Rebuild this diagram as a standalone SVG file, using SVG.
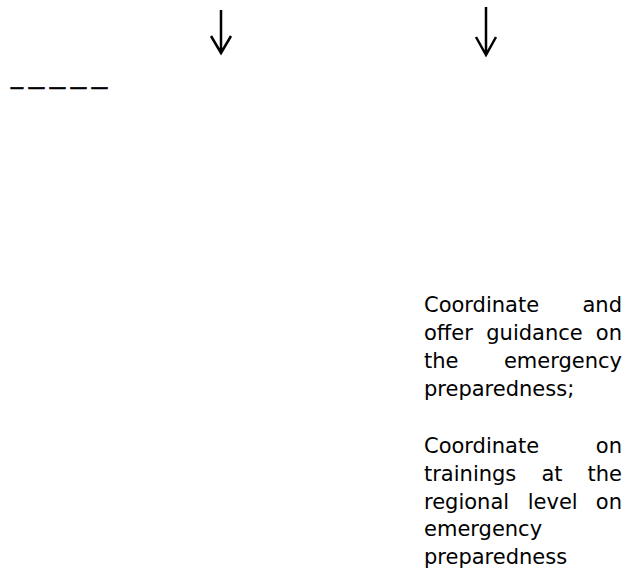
<svg xmlns="http://www.w3.org/2000/svg" width="640" height="574" viewBox="0 0 640 574">
<style>
.t{font-family:"DejaVu Sans","Liberation Sans",sans-serif;font-size:21px;fill:#000}
.e{text-anchor:end}
.m{text-anchor:middle}
.d{font-family:"Liberation Sans",Arial,sans-serif;font-size:24px;fill:#000;stroke:#000;stroke-width:0.7}
.arr{fill:none;stroke:#000;stroke-width:2.5;stroke-linecap:butt;stroke-linejoin:miter}
</style>
<rect width="640" height="574" fill="#fff"/>
<g id="connectors">
<path class="arr" d="M221 10V53M211 36L221 53L231 36"/>
<path class="arr" d="M486 7V55M476 37L486 55L496 37"/>
</g>
<g id="dashes">
<text class="d" y="84"><tspan x="11" textLength="12" lengthAdjust="spacingAndGlyphs">_</tspan><tspan x="29" textLength="15" lengthAdjust="spacingAndGlyphs">_</tspan><tspan x="50" textLength="15" lengthAdjust="spacingAndGlyphs">_</tspan><tspan x="71" textLength="15" lengthAdjust="spacingAndGlyphs">_</tspan><tspan x="92" textLength="15" lengthAdjust="spacingAndGlyphs">_</tspan></text>
</g>
<g id="node-guidance">
<text class="t" x="424" y="312">Coordinate</text><text class="t e" x="622" y="312">and</text>
<text class="t" x="424" y="340">offer</text><text class="t m" x="534.5" y="340">guidance</text><text class="t e" x="622" y="340">on</text>
<text class="t" x="424" y="368">the</text><text class="t e" x="622" y="368">emergency</text>
<text class="t" x="424" y="396">preparedness;</text>
</g>
<g id="node-trainings">
<text class="t" x="424" y="453">Coordinate</text><text class="t e" x="622" y="453">on</text>
<text class="t" x="424" y="481">trainings</text><text class="t m" x="552" y="481">at</text><text class="t e" x="622" y="481">the</text>
<text class="t" x="424" y="508.5">regional</text><text class="t m" x="552.7" y="508.5">level</text><text class="t e" x="622" y="508.5">on</text>
<text class="t" x="424" y="536">emergency</text>
<text class="t" x="424" y="563.5">preparedness</text>
</g>
</svg>
